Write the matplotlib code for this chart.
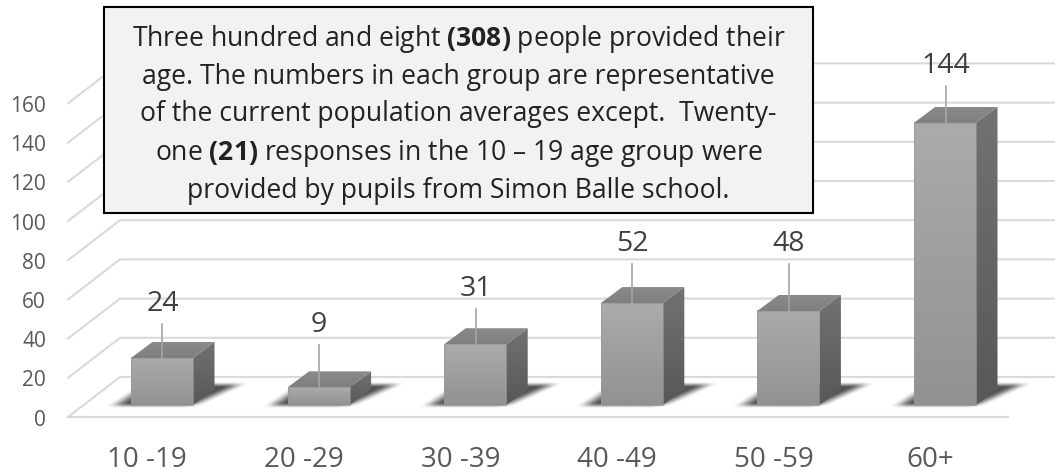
import numpy as np
import matplotlib
matplotlib.use("Agg")
import matplotlib.pyplot as plt
from matplotlib.patches import Polygon, Rectangle

categories = ["10 -19", "20 -29", "30 -39", "40 -49", "50 -59", "60+"]
values = [24, 9, 31, 52, 48, 144]
label_heights = [44.5, 33.5, 52, 75, 75, 166]   # value-axis height of each data label
y_ticks = [0, 20, 40, 60, 80, 100, 120, 140, 160]
note = ("Three hundred and eight $\\mathbf{(308)}$ people provided their\n"
        "age. The numbers in each group are representative\n"
        "of the current population averages except.  Twenty-\n"
        "one $\\mathbf{(21)}$ responses in the 10 \u2013 19 age group were\n"
        "provided by pupils from Simon Balle school.")

plt.rcParams["font.family"] = "Open Sans"
plt.rcParams["mathtext.fontset"] = "custom"
plt.rcParams["mathtext.rm"] = "Open Sans"
plt.rcParams["mathtext.bf"] = "Open Sans:bold"

W, H = 1055, 474
fig = plt.figure(figsize=(W / 100, H / 100), dpi=100)
ax = fig.add_axes([0, 0, 1, 1])
ax.axis("off")

# pixel geometry of the oblique projection
X0, XS = 162.5, 156.6      # px of first category, px per category
Y0, YS = 405.0, 1.96       # px of value 0 on the bar fronts, px per unit
ax.set_xlim(-X0 / XS, (W - X0) / XS)
ax.set_ylim((Y0 - H) / YS, Y0 / YS)
px = lambda p: (p - X0) / XS
dyv = lambda d: d / YS     # px -> value units

DX, DY = 21.5 / XS, dyv(16)
GRID = "#d9d9d9"
front_off, back_off = dyv(-12), dyv(28)

# gridlines, wall diagonals, tick labels and floor front edge
for t in y_ticks:
    ax.plot([px(68), px(120), px(1055)], [t + front_off, t + back_off, t + back_off],
            color=GRID, lw=1.5, solid_joinstyle="miter", zorder=1)
    ax.text(px(46), t + front_off - dyv(3), str(t), ha="right", va="center",
            fontsize=15, color="#595959", zorder=5)
ax.plot([px(68), px(1008)], [front_off, front_off], color=GRID, lw=1.5, zorder=1)


def grad(x0, x1, y0, y1, top, bot, clip=None, z=3):
    g = np.linspace(0, 1, 64)[:, None]
    im = ax.imshow(g, cmap=matplotlib.colors.LinearSegmentedColormap.from_list("g", [top, bot]),
                   extent=[x0, x1, y0, y1], origin="upper", aspect="auto",
                   zorder=z, interpolation="bilinear", vmin=0, vmax=1)
    if clip is not None:
        p = Polygon(clip, closed=True, transform=ax.transData)
        im.set_clip_path(p)
    return im


def smooth(t):
    t = np.clip(t, 0, 1)
    return t * t * (3 - 2 * t)


# soft floor shadow, in pixels relative to the bar centre at the floor line
su, sv = np.meshgrid(np.arange(-70, 100), np.arange(30, -6, -1))
shadow_alpha = (smooth((su - (-58 + 1.5 * sv)) / 22) * smooth(((40 + 2.2 * sv) - su) / 22)
                * smooth((sv + 3) / 6) * smooth((24 - sv) / 6))
shadow = np.zeros(su.shape + (4,))
shadow[..., :3] = 0.2
shadow[..., 3] = shadow_alpha * 0.85

for i, (v, lab, lh) in enumerate(zip(values, categories, label_heights)):
    l, r = i - 31.5 / XS, i + 30.5 / XS
    ax.imshow(shadow, extent=[i - 70 / XS, i + 100 / XS, dyv(-6), dyv(30)], aspect="auto",
              origin="upper", interpolation="bilinear", zorder=2)
    # front face
    grad(l, r, 0, v, "#ababab", "#929292")
    ax.add_patch(Rectangle((l, 0), r - l, v, fc="none", ec="#989898", lw=0.5, zorder=4))
    # side face
    side = [(r, 0), (r + DX, DY), (r + DX, v + DY), (r, v)]
    grad(r, r + DX, 0, v + DY, "#727272", "#585858", clip=side)
    # top face
    top = [(l, v), (r, v), (r + DX, v + DY), (l + DX, v + DY)]
    grad(l, r + DX, v, v + DY, "#8a8a8a", "#7f7f7f", clip=top)
    # leader line, data label, category label
    ax.plot([i, i], [v, lh - dyv(6)], color="#a6a6a6", lw=1.2, zorder=6)
    ax.text(i, lh + dyv(14), str(v), ha="center", va="center", fontsize=20.5, color="#404040", zorder=6)
    ax.text(i - 0.097, dyv(-55), lab, ha="center", va="center",
            fontsize=20, color="#595959", zorder=5)

# imshow resets the limits: restore the projection
ax.set_xlim(-X0 / XS, (W - X0) / XS)
ax.set_ylim((Y0 - H) / YS, Y0 / YS)

# annotation box
ax.add_patch(Rectangle((px(104), dyv(405 - 212.5)), (812.5 - 104) / XS, dyv(205.5),
                       fc="#f2f2f2", ec="black", lw=1.5, zorder=8))
ax.text(px(458.5), dyv(405 - 114), note, ha="center", va="center", ma="center",
        fontsize=19.1, color="#222222", linespacing=1.39, zorder=9)

fig.savefig("out.png", dpi=100)
